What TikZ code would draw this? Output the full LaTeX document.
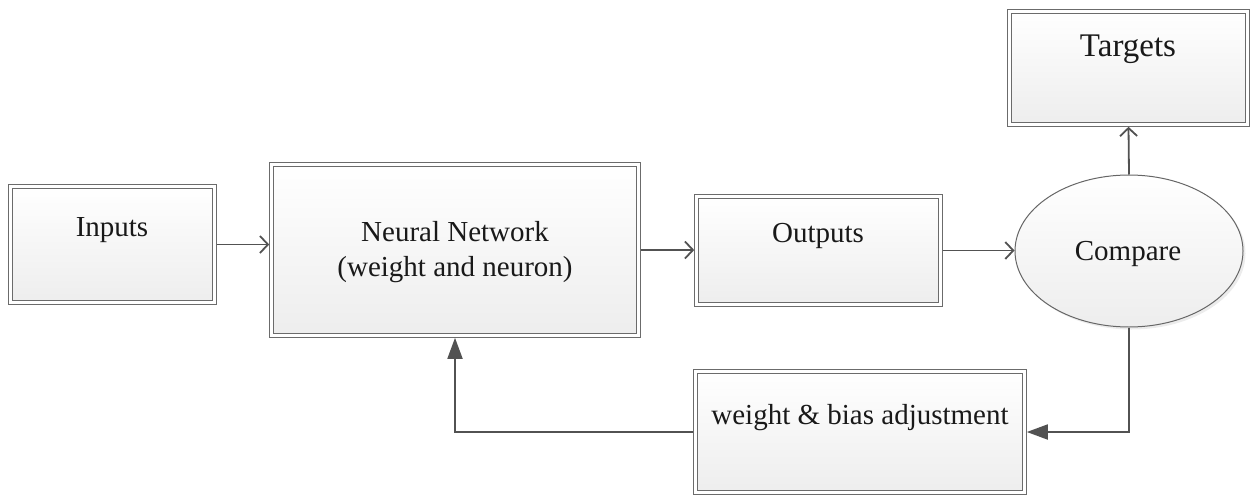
\documentclass[tikz,border=0pt]{standalone}
\usepackage{fontspec}
\setmainfont{Liberation Serif}
\newfontfamily\labelface{Liberation Serif}[Ligatures=TeX]
\usetikzlibrary{arrows.meta,shapes.geometric,shadows}
\begin{document}
\begin{tikzpicture}[x=1pt,y=-1pt,
  blockbox/.style={rectangle, draw=black!58, line width=1.1pt,
    double=white, double distance=2.4pt,
    top color=white, bottom color=black!7,
    inner sep=0pt, outer sep=2.3pt,
    drop shadow={shadow xshift=2.5pt, shadow yshift=-2.5pt, opacity=0.18}},
  roundbox/.style={ellipse, draw=black!60, line width=1pt,
    top color=white, bottom color=black!7, inner sep=0pt, outer sep=0.5pt,
    drop shadow={shadow xshift=2.5pt, shadow yshift=-2.5pt, opacity=0.15}},
  lbl/.style={font=\labelface\fontsize{29}{35}\selectfont, inner sep=0pt, anchor=base, text=black!90},
  flow/.style={draw=black!68, line width=1.8pt},
  openhead/.style={-{Straight Barb[length=8pt,width=17pt]}},
  solidhead/.style={-{Triangle[length=21pt,width=15pt]}}]
  \useasboundingbox (0,0) rectangle (1253,498);

  % blocks
  \node[blockbox, minimum width=204pt, minimum height=116pt] (inputs) at (112.5,244.5) {};
  \node[blockbox, minimum width=367pt, minimum height=171pt] (net) at (455,250) {};
  \node[blockbox, minimum width=244pt, minimum height=108pt] (outputs) at (818.5,250.5) {};
  \node[blockbox, minimum width=238pt, minimum height=113pt] (targets) at (1128.5,68) {};
  \node[blockbox, minimum width=329pt, minimum height=121pt] (adjust) at (860,432) {};
  \node[roundbox, minimum width=228pt, minimum height=152pt] (compare) at (1129,251) {};

  % texts
  \node[lbl] (tinputs) at (112,236) {Inputs};
  \node[lbl] (tnet1) at (455,241) {Neural Network};
  \node[lbl] (tnet2) at (455,276) {(weight and neuron)};
  \node[lbl] (toutputs) at (818,242) {Outputs};
  \node[lbl] (tcompare) at (1128,260) {Compare};
  \node[lbl, font=\labelface\fontsize{33}{38}\selectfont] (ttargets) at (1128,56) {Targets};
  \node[lbl] (tadjust) at (860,424) {weight \& bias adjustment};

  % connectors
  \draw[flow, openhead] (inputs.east) -- (inputs.east -| net.west);
  \draw[flow, openhead] (net.east) -- (net.east -| outputs.west);
  \draw[flow, openhead] (outputs.east) -- (outputs.east -| compare.west);
  \draw[flow, openhead] (compare.north) -- (targets.south);
  \draw[flow, solidhead] (compare.south) |- (adjust.east);
  \draw[flow, solidhead] (adjust.west) -| (net.south);
\end{tikzpicture}
\end{document}
